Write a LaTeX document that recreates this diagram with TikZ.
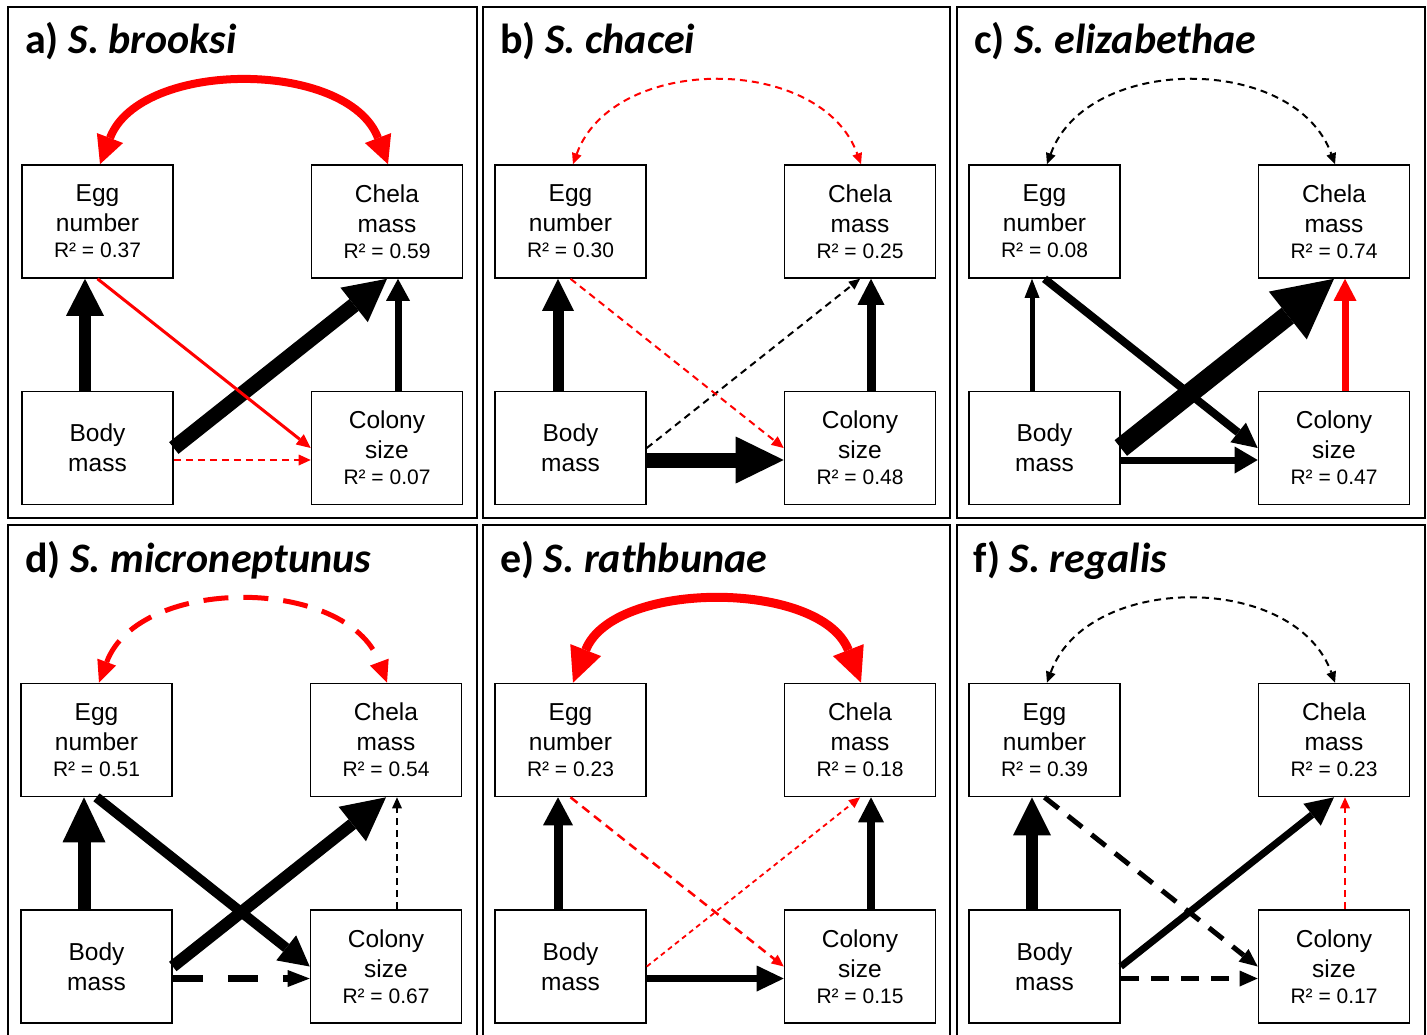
\documentclass[tikz,border=0pt]{standalone}
\usepackage{fontspec}
\setmainfont{Liberation Sans}
\newfontfamily\mytitlefont{Carlito}
\usetikzlibrary{arrows.meta}
\newcommand\myrsqfont{\fontsize{21}{26}\selectfont}
\tikzset{
  box/.style={draw, line width=1.6pt, minimum width=151pt, minimum height=113pt,
    inner sep=0pt, align=center, font=\fontsize{24.5}{30}\selectfont},
  frame/.style={line width=2pt},
  ttl/.style={anchor=base west, inner sep=0pt, font=\mytitlefont\fontsize{42}{50}\selectfont\bfseries},
  con/.style n args={3}{line width=#1pt, -{Triangle[length=#2pt,width=#3pt,line width=0pt]}},
  bicon/.style n args={3}{line width=#1pt,
    {Triangle[length=#2pt,width=#3pt,line width=0pt]}-{Triangle[length=#2pt,width=#3pt,line width=0pt]}},
  thind/.style={dash pattern=on 7pt off 5pt},
}
\newcommand\fourboxes[4]{%
  \node[box] (#1e) at (89.5,214.5) {Egg\\number\\[-4pt]{\myrsqfont R² = #2}};
  \node[box] (#1c) at (379,214.5) {Chela\\mass\\[-4pt]{\myrsqfont R² = #3}};
  \node[box] (#1b) at (89.5,441) {Body\\mass};
  \node[box] (#1s) at (379,441) {Colony\\size\\[-4pt]{\myrsqfont R² = #4}};
}
\newcommand\myVA[2]{\draw[#2] ([xshift=-12.5pt]#1b.north) -- ([xshift=-12.5pt]#1e.south);}
\newcommand\myVB[2]{\draw[#2] ([xshift=11pt]#1s.north) -- ([xshift=11pt]#1c.south);}
\newcommand\myDA[2]{\draw[#2] (#1b.east) -- (#1c.south);}
\newcommand\myDB[2]{\draw[#2] (#1e.south) -- (#1s.west);}
\newcommand\myHH[2]{\draw[#2] ([yshift=-12pt]#1b.east) -- ([yshift=-12pt]#1s.west);}
\newcommand\myARC[3]{\draw[#2] ([xshift=2.5pt]#1e.north) .. controls +(40,-#3) and +(-40,-#3) .. ([xshift=1pt]#1c.north);}
\begin{document}
\begin{tikzpicture}[x=1pt,y=-1pt]
\useasboundingbox[fill=white] (0,0) rectangle (1427,1034);
\clip (0,0) rectangle (1427,1034);
% frames
\draw[frame] (8,7) rectangle (477,518);
\draw[frame] (483,7) rectangle (950,518);
\draw[frame] (957,7) rectangle (1425,518);
\draw[frame] (8,1040) -- (8,525) -- (477,525) -- (477,1040);
\draw[frame] (483,1040) -- (483,525) -- (950,525) -- (950,1040);
\draw[frame] (957,1040) -- (957,525) -- (1425,525) -- (1425,1040);

% panel a
\begin{scope}[shift={(8,7)}]
\node[ttl] (at) at (17,46) {a) \itshape S. brooksi};
\fourboxes{a}{0.37}{0.59}{0.07}
\myARC{a}{red, bicon={8}{28}{28}}{105}
\myVA{a}{con={12}{37}{38}}
\myVB{a}{con={7}{22}{24}}
\myDA{a}{con={15}{42}{44}}
\myDB{a}{red, con={3}{14}{13}}
\myHH{a}{red, thind, con={2}{12}{11}}
\end{scope}

% panel b
\begin{scope}[shift={(481,7)}]
\node[ttl] (bt) at (19,46) {b) \itshape S. chacei};
\fourboxes{b}{0.30}{0.25}{0.48}
\myARC{b}{red, thind, bicon={2}{11}{10}}{110.5}
\myVA{b}{con={11}{32}{32}}
\myVB{b}{con={9}{26}{27}}
\myHH{b}{con={15}{48}{47}}
\myDA{b}{thind, con={2}{11}{10}}
\myDB{b}{red, thind, con={2}{12}{11}}
\end{scope}

% panel c
\begin{scope}[shift={(955,7)}]
\node[ttl] (ct) at (19,46) {c) \itshape S. elizabethae};
\fourboxes{c}{0.08}{0.74}{0.47}
\myARC{c}{thind, bicon={2}{11}{10}}{110.5}
\myVA{c}{con={5}{19}{15}}
\myVB{c}{red, con={7}{22}{23}}
\myDB{c}{con={8}{25}{25}}
\myHH{c}{con={7}{23}{27}}
\myDA{c}{con={20}{59}{61}}
\end{scope}

% panel d
\begin{scope}[shift={(7,525.5)}]
\node[ttl] (dt) at (18,46.5) {d) \itshape S. microneptunus};
\fourboxes{d}{0.51}{0.54}{0.67}
\myARC{d}{red, dash pattern=on 25pt off 15pt, bicon={5}{22}{20}}{107}
\myVA{d}{con={13}{45}{43}}
\myVB{d}{thind, con={2}{11}{10}}
\myDA{d}{con={12}{43}{44}}
\myDB{d}{con={10}{30}{32}}
\myHH{d}{dash pattern=on 30pt off 25pt, con={7}{22}{17}}
\end{scope}

% panel e
\begin{scope}[shift={(481,525.5)}]
\node[ttl] (et) at (19,46.5) {e) \itshape S. rathbunae};
\fourboxes{e}{0.23}{0.18}{0.15}
\myARC{e}{red, bicon={9}{35}{33}}{103}
\myVA{e}{con={9}{28}{30}}
\myVB{e}{con={8}{25}{26}}
\myHH{e}{con={7}{27}{26}}
\myDB{e}{red, dash pattern=on 9pt off 6pt, con={2.5}{12}{11}}
\myDA{e}{red, dash pattern=on 5pt off 4pt, con={1.8}{11}{10}}
\end{scope}

% panel f
\begin{scope}[shift={(955,525.5)}]
\node[ttl] (ft) at (18,46.5) {f) \itshape S. regalis};
\fourboxes{f}{0.39}{0.23}{0.17}
\myARC{f}{thind, bicon={2}{11}{10}}{110.5}
\myVA{f}{con={12}{38}{38}}
\myVB{f}{red, thind, con={2}{11}{10}}
\myDB{f}{dash pattern=on 18pt off 12pt, con={5}{18}{16}}
\myHH{f}{dash pattern=on 18pt off 12pt, con={5}{18}{16}}
\myDA{f}{con={7}{28}{28}}
\end{scope}
\end{tikzpicture}
\end{document}
